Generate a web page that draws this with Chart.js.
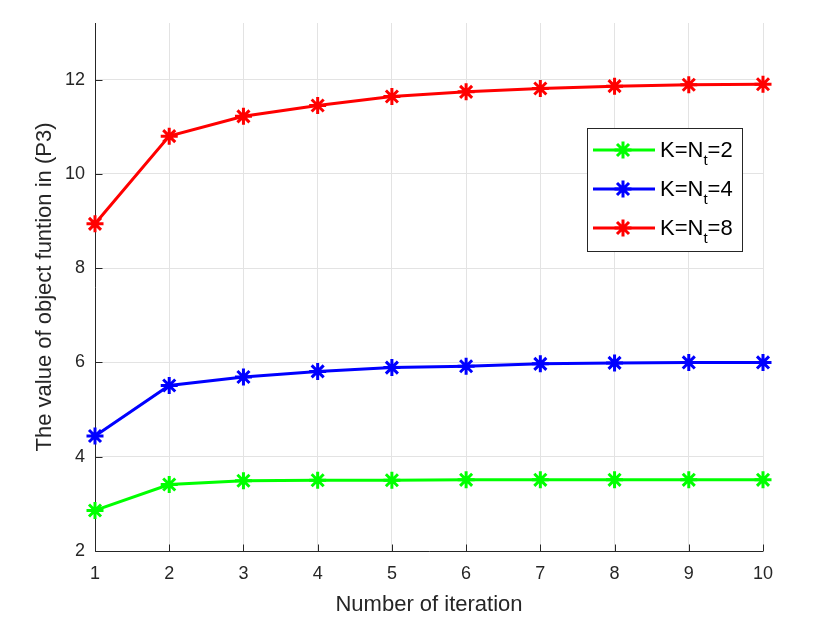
<!DOCTYPE html>
<html>
<head>
<meta charset="utf-8">
<title>Object function vs iteration</title>
<script src="https://cdn.jsdelivr.net/npm/chart.js@4.4.0/dist/chart.umd.min.js"></script>
<style>
  html, body { margin: 0; padding: 0; background: #fff; }
  #chart { display: block; }
</style>
</head>
<body>
<canvas id="chart" width="830" height="622"></canvas>
<script>
'use strict';

// data
var iterations = [1, 2, 3, 4, 5, 6, 7, 8, 9, 10];
var valuesK2 = [2.86, 3.41, 3.49, 3.50, 3.50, 3.51, 3.51, 3.51, 3.51, 3.51];
var valuesK4 = [4.44, 5.51, 5.69, 5.81, 5.89, 5.92, 5.97, 5.99, 6.00, 6.00];
var valuesK8 = [8.94, 10.80, 11.22, 11.45, 11.64, 11.74, 11.81, 11.86, 11.89, 11.90];
var seriesLabels = ['K=N_t=2', 'K=N_t=4', 'K=N_t=8'];
var seriesColors = ['#00ff00', '#0000ff', '#ff0000'];
var yTicks = [2, 4, 6, 8, 10, 12];

var FONT = '"Liberation Sans", Arial, Helvetica, sans-serif';
var AXIS_COLOR = '#262626';

function makeDataset(label, values, color) {
  return {
    label: label,
    data: values,
    borderColor: color,
    backgroundColor: color,
    borderWidth: 3,
    pointStyle: 'star',
    pointRadius: 8.5,
    pointBorderWidth: 3,
    pointBorderColor: color,
    tension: 0,
    clip: false
  };
}

function drawStar(ctx, x, y, r) {
  var d = r * Math.cos(Math.PI / 4);
  ctx.beginPath();
  ctx.moveTo(x - r, y); ctx.lineTo(x + r, y);
  ctx.moveTo(x, y - r); ctx.lineTo(x, y + r);
  ctx.moveTo(x - d, y - d); ctx.lineTo(x + d, y + d);
  ctx.moveTo(x - d, y + d); ctx.lineTo(x + d, y - d);
  ctx.stroke();
}

// axis lines with inward ticks, matlab style
var axesPlugin = {
  id: 'matlabAxes',
  beforeDatasetsDraw: function(chart) {
    var ctx = chart.ctx;
    var area = chart.chartArea;
    var xs = chart.scales.x;
    var ys = chart.scales.y;
    var left = Math.round(area.left) + 0.5;
    var bottom = Math.round(area.bottom) + 0.5;
    ctx.save();
    ctx.strokeStyle = AXIS_COLOR;
    ctx.lineWidth = 1;
    ctx.beginPath();
    ctx.moveTo(left, area.top);
    ctx.lineTo(left, bottom);
    ctx.lineTo(area.right, bottom);
    for (var i = 0; i < yTicks.length; i++) {
      var py = Math.round(ys.getPixelForValue(yTicks[i])) + 0.5;
      ctx.moveTo(left, py);
      ctx.lineTo(left + 7, py);
    }
    for (var j = 0; j < iterations.length; j++) {
      var px = Math.round(xs.getPixelForValue(j)) + 0.5;
      ctx.moveTo(px, bottom);
      ctx.lineTo(px, bottom - 7);
    }
    ctx.stroke();
    ctx.restore();
  }
};

// legend box with subscript text
var legendPlugin = {
  id: 'subLegend',
  afterDraw: function(chart) {
    var ctx = chart.ctx;
    var boxX = 587, boxY = 128, boxW = 155, boxH = 123;
    var rowY = [150, 189, 228];
    ctx.save();
    ctx.fillStyle = '#ffffff';
    ctx.fillRect(boxX, boxY, boxW, boxH);
    ctx.strokeStyle = AXIS_COLOR;
    ctx.lineWidth = 1;
    ctx.strokeRect(boxX + 0.5, boxY + 0.5, boxW, boxH);

    chart.data.datasets.forEach(function(ds, i) {
      var y = rowY[i];
      ctx.strokeStyle = ds.borderColor;
      ctx.lineWidth = 3;
      ctx.beginPath();
      ctx.moveTo(593, y);
      ctx.lineTo(655, y);
      ctx.stroke();
      drawStar(ctx, 623, y, 8.5);

      var parts = ds.label.split('_');
      var main = parts[0];
      var sub = parts[1].charAt(0);
      var tail = parts[1].slice(1);
      var x = 660;
      ctx.fillStyle = '#000000';
      ctx.textBaseline = 'alphabetic';
      ctx.textAlign = 'left';
      ctx.font = '22px ' + FONT;
      ctx.fillText(main, x, y + 7);
      x += ctx.measureText(main).width;
      ctx.font = '15px ' + FONT;
      ctx.fillText(sub, x, y + 15);
      x += ctx.measureText(sub).width;
      ctx.font = '22px ' + FONT;
      ctx.fillText(tail, x, y + 7);
    });
    ctx.restore();
  }
};

var ctx = document.getElementById('chart').getContext('2d');
var chart = new Chart(ctx, {
  type: 'line',
  data: {
    labels: iterations,
    datasets: [
      makeDataset(seriesLabels[0], valuesK2, seriesColors[0]),
      makeDataset(seriesLabels[1], valuesK4, seriesColors[1]),
      makeDataset(seriesLabels[2], valuesK8, seriesColors[2])
    ]
  },
  options: {
    responsive: false,
    animation: false,
    devicePixelRatio: 1,
    layout: { padding: { left: 0, right: 67, top: 23, bottom: 0 } },
    plugins: {
      legend: { display: false },
      tooltip: { enabled: false }
    },
    scales: {
      x: {
        type: 'category',
        offset: false,
        grid: { color: '#e3e3e3', lineWidth: 1, drawTicks: false },
        border: { display: false },
        ticks: {
          color: AXIS_COLOR,
          font: { family: FONT, size: 18 },
          padding: 12,
          maxRotation: 0,
          autoSkip: false
        },
        title: {
          display: true,
          text: 'Number of iteration',
          color: AXIS_COLOR,
          font: { family: FONT, size: 22 },
          padding: { top: 0, bottom: 4 }
        },
        afterFit: function(scale) { scale.height = 71; }
      },
      y: {
        type: 'linear',
        min: 2,
        max: 13.2,
        grid: { color: '#e3e3e3', lineWidth: 1, drawTicks: false },
        border: { display: false },
        ticks: {
          color: AXIS_COLOR,
          font: { family: FONT, size: 18 },
          padding: 10
        },
        afterBuildTicks: function(scale) {
          scale.ticks = yTicks.map(function(v) { return { value: v }; });
        },
        title: {
          display: true,
          text: 'The value of object funtion in (P3)',
          color: AXIS_COLOR,
          font: { family: FONT, size: 22 },
          padding: { top: 32, bottom: 0 }
        },
        afterFit: function(scale) { scale.width = 95; }
      }
    }
  },
  plugins: [axesPlugin, legendPlugin]
});
</script>
</body>
</html>
